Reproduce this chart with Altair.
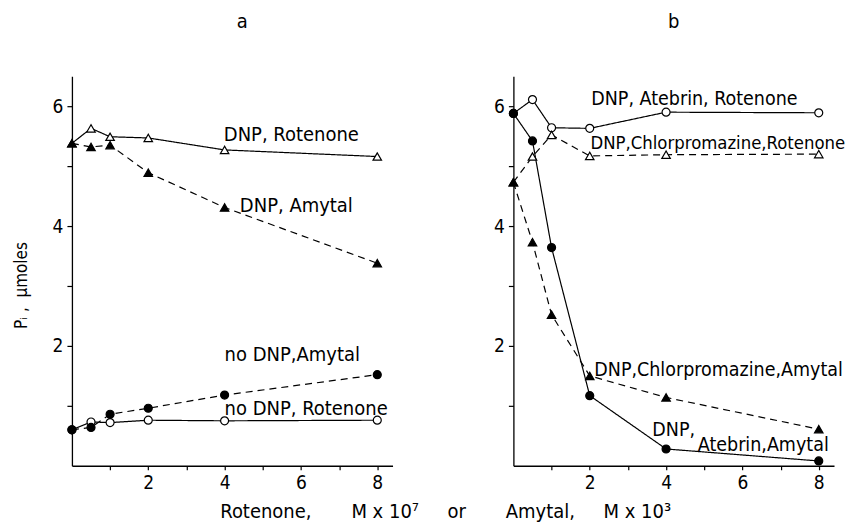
import altair as alt
import pandas as pd

FONT = "DejaVu Sans Condensed"
NB = "\u00a0"

# concentrations (x)
x_vals = [0, 0.5, 1, 2, 4, 8]

# panel a series (Pi, umoles)
a_dnp_rot = [5.38, 5.63, 5.49, 5.47, 5.27, 5.16]
a_dnp_amy = [5.38, 5.32, 5.35, 4.89, 4.31, 3.38]
a_nodnp_amy = [0.60, 0.64, 0.86, 0.96, 1.18, 1.52]
a_nodnp_rot = [0.60, 0.73, 0.72, 0.76, 0.75, 0.76]

# panel b series
b_ate_rot = [5.88, 6.11, 5.64, 5.63, 5.90, 5.89]
b_chl_rot = [4.73, 5.16, 5.52, 5.17, 5.19, 5.20]
b_ate_amy = [5.88, 5.42, 3.64, 1.17, 0.28, 0.08]
b_chl_amy = [4.73, 3.73, 2.52, 1.50, 1.14, 0.61]

# annotation labels
a_labels = ["DNP, Rotenone", "DNP, Amytal", "no DNP,Amytal", "no DNP, Rotenone"]
a_label_x = [3.98, 4.40, 4.00, 4.00]
a_label_y = [5.42, 4.24, 1.75, 0.85]

b_labels = ["DNP, Atebrin, Rotenone", "DNP,Chlorpromazine,Amytal", "DNP,", "Atebrin,Amytal"]
b_label_x = [2.04, 2.12, 3.64, 4.83]
b_label_y = [6.02, 1.49, 0.49, 0.25]

# the long label that runs to the right edge
b_long_label = ["DNP,Chlorpromazine,Rotenone"]
b_long_x = [2.02]
b_long_y = [5.28]

x_ticks = [1, 2, 3, 4, 5, 6, 7, 8]
y_ticks = [1, 2, 3, 4, 5, 6]

y_title = "Pᵢ" + NB + "," + NB * 2 + "μmoles"
x_title = ("Rotenone," + NB * 7 + "M x 10⁷" + NB * 5 + "or" + NB * 7
           + "Amytal," + NB * 5 + "M x 10³")

xs = alt.Scale(domain=[0, 8.4], nice=False, zero=False)
ys = alt.Scale(domain=[0, 6.5], nice=False, zero=False)


def make_panel(series, texts, title, title_dx, ytitle):
    xaxis = alt.Axis(values=x_ticks, labelExpr="datum.value % 2 == 0 ? datum.label : ''",
                     title=None, tickSize=4, labelPadding=4, grid=False)
    if ytitle:
        yaxis = alt.Axis(values=y_ticks, labelExpr="datum.value % 2 == 0 ? datum.label : ''",
                         title=ytitle, tickSize=5, labelPadding=4, grid=False, titlePadding=22,
                         titleY=209, titleFontSize=17)
    else:
        yaxis = alt.Axis(values=y_ticks, labelExpr="datum.value % 2 == 0 ? datum.label : ''",
                         title=None, tickSize=5, labelPadding=4, grid=False)
    lines, open_pts, filled_pts = [], [], []
    for vals, shape, filled, dashed in series:
        df = pd.DataFrame({"x": x_vals, "y": vals})
        base = alt.Chart(df).encode(
            x=alt.X("x:Q", scale=xs, axis=xaxis),
            y=alt.Y("y:Q", scale=ys, axis=yaxis),
        )
        lines.append(base.mark_line(color="black", strokeWidth=1.2,
                                    strokeDash=[7, 5] if dashed else [1, 0]))
        size = 64 if shape == "circle" else 72
        pt = base.mark_point(shape=shape, filled=True, fill="black" if filled else "white",
                             stroke="black", strokeWidth=1.2, size=size, opacity=1)
        (filled_pts if filled else open_pts).append(pt)
    text_layers = []
    for labels, lx, ly, fs in texts:
        tdf = pd.DataFrame({"x": lx, "y": ly, "t": labels})
        text_layers.append(alt.Chart(tdf).mark_text(
            align="left", baseline="alphabetic", font=FONT, fontSize=fs, color="black"
        ).encode(
            x=alt.X("x:Q", scale=xs, axis=xaxis),
            y=alt.Y("y:Q", scale=ys, axis=yaxis),
            text="t:N",
        ))
    return alt.layer(*lines, *open_pts, *filled_pts, *text_layers).properties(
        width=321, height=390,
        title=alt.TitleParams(title, fontSize=20, font=FONT, fontWeight="normal", offset=44,
                              dx=title_dx),
    )


pa = make_panel(
    [(a_dnp_rot, "triangle-up", False, False),
     (a_dnp_amy, "triangle-up", True, True),
     (a_nodnp_amy, "circle", True, True),
     (a_nodnp_rot, "circle", False, False)],
    [(a_labels, a_label_x, a_label_y, 20)], "a", 10, y_title)

pb = make_panel(
    [(b_ate_rot, "circle", False, False),
     (b_chl_rot, "triangle-up", False, True),
     (b_ate_amy, "circle", True, False),
     (b_chl_amy, "triangle-up", True, True)],
    [(b_labels, b_label_x, b_label_y, 19.5), (b_long_label, b_long_x, b_long_y, 18.4)],
    "b", 0, None)

chart = alt.hconcat(pa, pb, spacing=101).properties(
    padding={"left": 4, "top": 4, "right": 0, "bottom": 0},
    title=alt.TitleParams(x_title, orient="bottom", anchor="middle", fontSize=20, font=FONT,
                          fontWeight="normal", dx=17, offset=9),
).configure_view(stroke=None).configure_axis(
    domainColor="black", tickColor="black", labelColor="black", titleColor="black",
    labelFont=FONT, titleFont=FONT, labelFontSize=19, titleFontSize=17,
    titleFontWeight="normal", domainWidth=1.3, tickWidth=1.2,
).configure_title(color="black")

chart.save("out.html", embed_options={"renderer": "svg", "actions": False})
